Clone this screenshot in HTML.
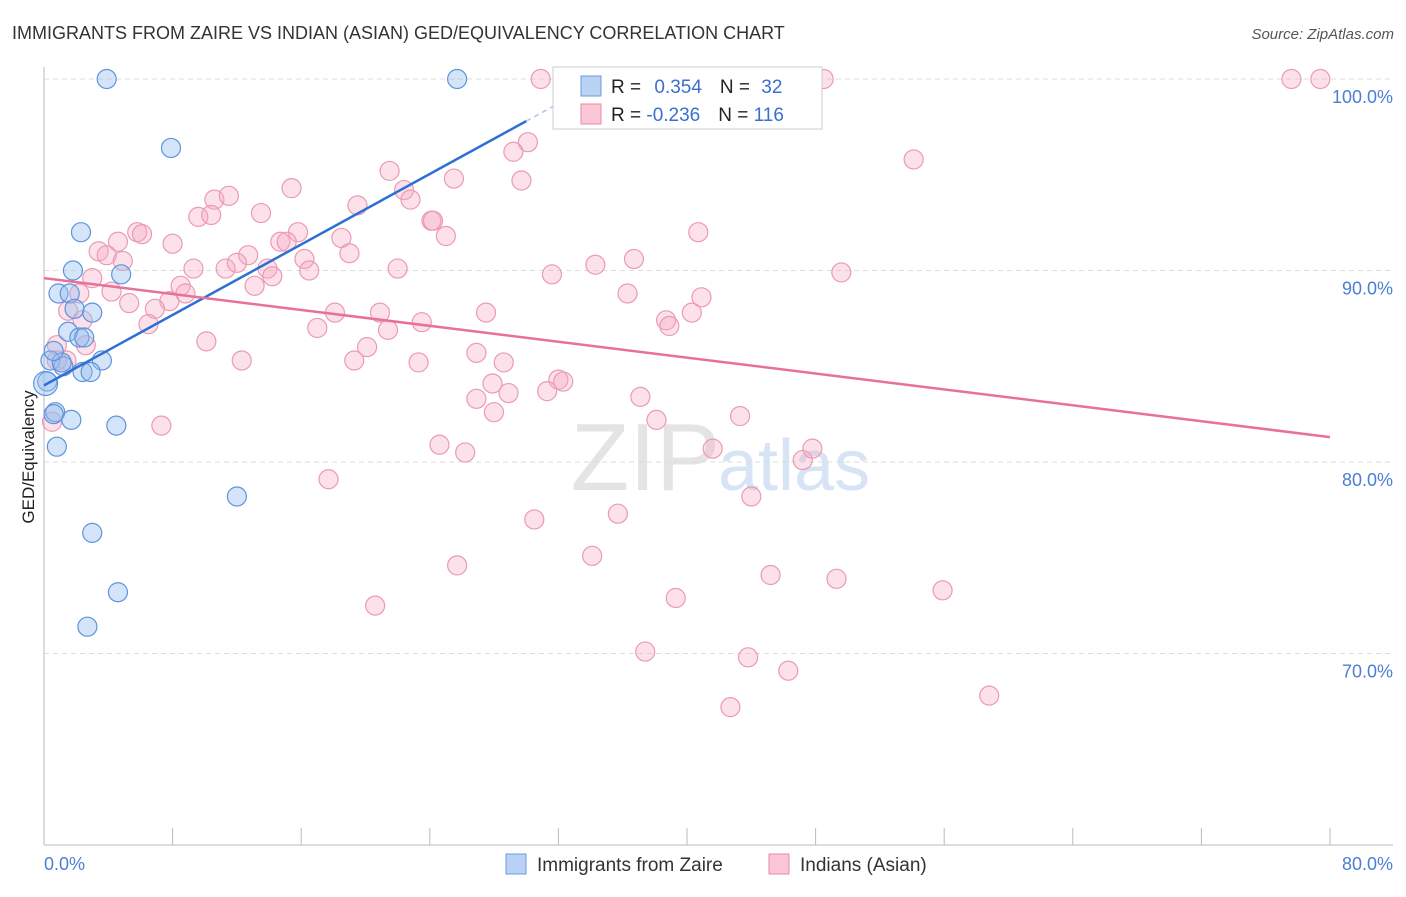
<!DOCTYPE html>
<html><head><meta charset="utf-8"><style>
body{margin:0;background:#fff;font-family:"Liberation Sans",sans-serif;}
svg text{font-family:"Liberation Sans",sans-serif;}
</style></head><body>
<svg width="1406" height="892" xmlns="http://www.w3.org/2000/svg">
<text x="12" y="39" font-size="18" fill="#333">IMMIGRANTS FROM ZAIRE VS INDIAN (ASIAN) GED/EQUIVALENCY CORRELATION CHART</text>
<text x="1394" y="39" font-size="15" fill="#555" font-style="italic" text-anchor="end">Source: ZipAtlas.com</text>
<text x="720" y="490" font-size="96" fill="#e4e4e4" text-anchor="end" font-family="Liberation Serif">ZIP</text>
<text x="718" y="490" font-size="72" fill="#d6e4f5">atlas</text>
<g id="grid"></g>
<line x1="44" y1="67" x2="44" y2="845" stroke="#bbb"/>
<line x1="44" y1="845" x2="1393" y2="845" stroke="#bbb"/>
<g id="xt"></g>
<text transform="translate(34,457) rotate(-90)" font-size="17" fill="#222" text-anchor="middle">GED/Equivalency</text>
<text x="44" y="870" font-size="18" fill="#4a7fd4">0.0%</text>
<text x="1393" y="870" font-size="18" fill="#4a7fd4" text-anchor="end">80.0%</text>
<g id="pts"></g>
<g id="lines"></g>
<g>
<rect x="553" y="67" width="269" height="62" fill="#fff" stroke="#ccc"/>
<rect x="581" y="76" width="20" height="20" fill="#b9d3f5" stroke="#6a9ae0"/>
<rect x="581" y="104" width="20" height="20" fill="#f9c7d6" stroke="#e88aa8"/>
<text x="611" y="93" font-size="19" fill="#222">R = <tspan fill="#3a6fd0" dx="8">0.354</tspan><tspan dx="18" fill="#222">N = </tspan><tspan fill="#3a6fd0" dx="6">32</tspan></text>
<text x="611" y="121" font-size="19" fill="#222">R = <tspan fill="#3a6fd0">-0.236</tspan><tspan dx="18" fill="#222">N = </tspan><tspan fill="#3a6fd0">116</tspan></text>
</g>
<g>
<rect x="506" y="854" width="20" height="20" fill="#b9d3f5" stroke="#6a9ae0"/>
<text x="537" y="871" font-size="19" fill="#333">Immigrants from Zaire</text>
<rect x="769" y="854" width="20" height="20" fill="#f9c7d6" stroke="#e88aa8"/>
<text x="800" y="871" font-size="19" fill="#333">Indians (Asian)</text>
</g>
</svg>
<script>
const yTicks=[100,90,80,70];
const xTicks=[0,8,16,24,32,40,48,56,64,72,80];
const blueX=[3.9,25.7,7.9,2.3,1.8,4.8,0.9,1.6,1.9,3.0,1.5,2.2,2.5,3.6,0.4,1.2,2.4,2.9,0.2,0.7,0.6,1.7,4.5,0.8,12.0,3.0,4.6,2.7,0.1,1.1,0.6];
const blueY=[100,100,96.4,92.0,90.0,89.8,88.8,88.8,88.0,87.8,86.8,86.5,86.5,85.3,85.3,85.0,84.7,84.7,84.2,82.6,82.5,82.2,81.9,80.8,78.2,76.3,73.2,71.4,84.1,85.2,85.8];
const pinkX=[30.9,48.5,77.6,79.4,30.1,29.2,54.1,21.5,29.7,25.5,15.4,22.4,10.6,11.5,22.8,19.5,13.5,9.6,10.4,24.1,24.2,15.8,5.8,6.1,18.5,25.0,40.7,4.6,8.0,14.7,15.1,3.4,3.9,12.7,19.0,4.9,16.2,36.7,9.3,11.3,12.0,13.9,16.5,22.0,34.3,14.2,31.6,49.6,3.0,8.5,13.1,4.2,8.8,36.3,40.9,2.2,7.8,5.3,6.9,18.1,27.5,20.9,40.3,1.5,2.4,38.7,38.9,23.5,6.5,17.0,21.4,10.1,20.1,2.6,0.8,26.9,12.3,19.3,23.3,28.6,1.4,32.0,32.3,27.9,28.9,31.3,26.9,37.1,27.99,43.3,38.1,7.3,0.5,24.6,41.6,26.2,47.2,47.8,17.7,44.0,30.5,35.7,34.1,25.7,45.2,49.3,55.9,39.3,20.6,37.4,43.8,46.3,42.7,58.8,0.8];
const pinkY=[100,100,100,100,96.7,96.2,95.8,95.2,94.7,94.8,94.3,94.2,93.7,93.9,93.7,93.4,93.0,92.8,92.9,92.6,92.6,92.0,92.0,91.9,91.7,91.8,92.0,91.5,91.4,91.5,91.5,91.0,90.8,90.8,90.9,90.5,90.6,90.6,90.1,90.1,90.4,90.1,90.0,90.1,90.3,89.7,89.8,89.9,89.6,89.2,89.2,88.9,88.8,88.8,88.6,88.8,88.4,88.3,88.0,87.8,87.8,87.8,87.8,87.9,87.4,87.4,87.1,87.3,87.2,87.0,86.9,86.3,86.0,86.1,86.1,85.7,85.3,85.3,85.2,85.2,85.3,84.3,84.2,84.1,83.6,83.7,83.3,83.4,82.6,82.4,82.2,81.9,82.1,80.9,80.7,80.5,80.1,80.7,79.1,78.2,77.0,77.3,75.1,74.6,74.1,73.9,73.3,72.9,72.5,70.1,69.8,69.1,67.2,67.8,85.3];
const blueFit=[84.0,97.8], bluePtsX=[0,30.0,33.3];
const pinkFit=[89.6,81.3];
const NS="http://www.w3.org/2000/svg";
const X=v=>44+v/80*1286, Y=v=>79+(100-v)*19.15;
function mk(t,a,p){const e=document.createElementNS(NS,t);for(const k in a)e.setAttribute(k,a[k]);p.appendChild(e);return e;}
const g=document.getElementById('grid');
yTicks.forEach(t=>{
 const l=mk('line',{x1:44,x2:1393,y1:Y(t),y2:Y(t),stroke:'#ddd','stroke-dasharray':'5,4'},g);
 
 
 const tx=mk('text',{x:1393,y:Y(t)+24,'font-size':18,fill:'#4a7fd4','text-anchor':'end'},g);
 tx.textContent=t.toFixed(1)+'%';
 
 
});
const xt=document.getElementById('xt');
xTicks.forEach(t=>{
 const l=mk('line',{x1:X(t),x2:X(t),y1:828,y2:845,stroke:'#bbb'},xt);
 
 
});
const pts=document.getElementById('pts');
pinkX.forEach((v,i)=>{
 const c=mk('circle',{cx:X(v),cy:Y(pinkY[i]),r:9.5,fill:'rgba(245,170,195,0.35)',stroke:'#eb9ab4','stroke-width':1.2},pts);
 
 
});
blueX.forEach((v,i)=>{
 const c=mk('circle',{cx:X(v),cy:Y(blueY[i]),r:i==28?12:9.5,fill:'rgba(150,190,240,0.4)',stroke:'#5f93dc','stroke-width':1.2},pts);
 
 
});
const ln=document.getElementById('lines');
const slope=(blueFit[1]-blueFit[0])/bluePtsX[1];
const bl=mk('line',{x1:X(0),y1:Y(blueFit[0]),x2:X(bluePtsX[1]),y2:Y(blueFit[0]+slope*bluePtsX[1]),stroke:'#2e6fd6','stroke-width':2.5},ln);


const bd=mk('line',{x1:X(bluePtsX[1]),y1:Y(blueFit[0]+slope*bluePtsX[1]),x2:X(bluePtsX[2]),y2:Y(blueFit[0]+slope*bluePtsX[2]),stroke:'#aac6ee','stroke-width':1.5,'stroke-dasharray':'5,4'},ln);


const pl=mk('line',{x1:X(0),y1:Y(pinkFit[0]),x2:X(80),y2:Y(pinkFit[1]),stroke:'#e8709a','stroke-width':2.5},ln);


</script>
</body></html>
